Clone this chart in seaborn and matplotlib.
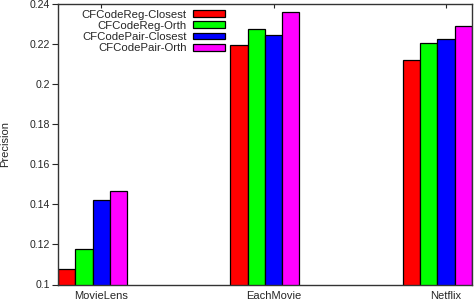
import matplotlib
matplotlib.use("Agg")
import matplotlib.pyplot as plt
import seaborn as sns
import pandas as pd

datasets = ["MovieLens", "EachMovie", "Netflix"]
methods = ["CFCodeReg-Closest", "CFCodeReg-Orth", "CFCodePair-Closest", "CFCodePair-Orth"]
reg_closest = [0.1075, 0.2191, 0.2118]
reg_orth = [0.1179, 0.2272, 0.2201]
pair_closest = [0.1419, 0.2245, 0.2222]
pair_orth = [0.1464, 0.2358, 0.2290]
colors = ["#ff0000", "#00ff00", "#0000ff", "#ff00ff"]
yticks = [0.1, 0.12, 0.14, 0.16, 0.18, 0.2, 0.22, 0.24]
ytick_labels = ["0.1", "0.12", "0.14", "0.16", "0.18", "0.2", "0.22", "0.24"]

rows = []
for m, vals in zip(methods, [reg_closest, reg_orth, pair_closest, pair_orth]):
    for d, v in zip(datasets, vals):
        rows.append({"dataset": d, "method": m, "precision": v})
df = pd.DataFrame(rows)

sns.set_style("white")
plt.rcParams["font.family"] = ["Liberation Sans", "DejaVu Sans"]

fig = plt.figure(figsize=(4.74, 3.01), dpi=100)
ax = fig.add_axes([58 / 474, 1 - 284.5 / 301, 414 / 474, 281 / 301])

sns.barplot(data=df, x="dataset", y="precision", hue="method", order=datasets,
            hue_order=methods, palette=colors, width=0.4, edgecolor="black",
            linewidth=0.9, saturation=1, ax=ax, legend=True)

ax.set_xlim(-0.2, 2.2)
ax.set_ylim(0.1, 0.24)
ax.set_xticks([0.05, 1.05, 2.05])
ax.set_xticklabels(datasets, fontsize=8)
ax.set_yticks(yticks)
ax.set_yticklabels(ytick_labels, fontsize=7.6)
ax.set_xlabel("")
ax.set_ylabel("Precision", fontsize=8, labelpad=14)

for s in ax.spines.values():
    s.set_visible(True)
    s.set_color("#333333")
    s.set_linewidth(1.0)

ax.tick_params(axis="y", direction="out", length=4, width=0.8, left=True, pad=2)
ax.tick_params(axis="x", direction="in", length=3, width=0.8, bottom=False, top=True,
               labelbottom=True, labeltop=False, pad=5)

handles, labels = ax.get_legend_handles_labels()
ax.legend(handles, labels, loc="upper right", bbox_to_anchor=(0.403, 0.978),
          frameon=False, markerfirst=False, fontsize=8.2, borderpad=0,
          borderaxespad=0, labelspacing=0.1, handlelength=2.8, handleheight=0.55,
          handletextpad=0.55)

fig.savefig("out.png", dpi=100)
